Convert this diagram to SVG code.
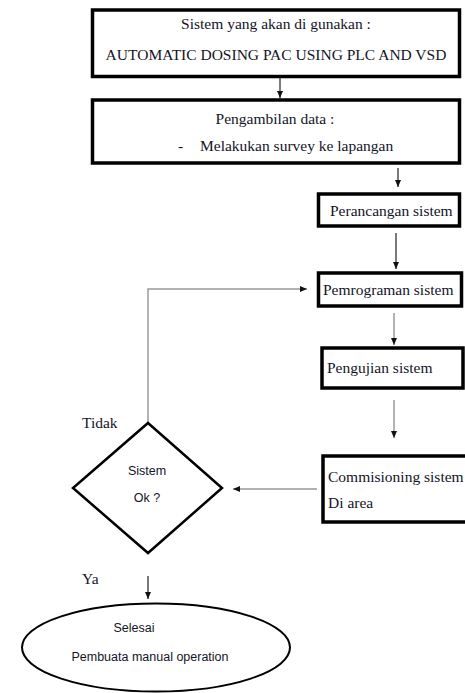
<svg xmlns="http://www.w3.org/2000/svg" width="465" height="693" viewBox="0 0 465 693">
<defs>
<marker id="ah" markerWidth="8" markerHeight="8" refX="7" refY="4" orient="auto" markerUnits="userSpaceOnUse">
<path d="M0,1 L7,4 L0,7 Z" fill="#111"/>
</marker>
<style>
.box{fill:#fff;stroke:#000;stroke-width:3.5}
.t{font-family:"Liberation Serif","Times New Roman",serif;font-size:15.5px;fill:#141428}
.s{font-family:"Liberation Sans",Arial,sans-serif;font-size:12.5px;fill:#141428}
.ln{fill:none;stroke:#222;stroke-width:1.2;marker-end:url(#ah)}
.lg{fill:none;stroke:#999;stroke-width:1.5;marker-end:url(#ah)}
</style>
</defs>
<rect width="465" height="693" fill="#fff"/>
<g id="connectors">
<path class="ln" d="M280,77 V98"/>
<path class="ln" d="M398,168 V187"/>
<path class="ln" d="M396,233 V269"/>
<path class="lg" d="M148,423 V289 H307"/>
<path class="lg" d="M394,313 V345"/>
<path class="lg" d="M394,400 V438"/>
<path class="lg" d="M317,489 H233"/>
<path class="ln" d="M148,576 V599"/>
</g>
<g id="n1">
<rect class="box" x="92.5" y="10" width="367" height="66.5"/>
<text class="t" x="276" y="29" text-anchor="middle">Sistem yang akan di gunakan :</text>
<text class="t" x="276" y="60" text-anchor="middle">AUTOMATIC DOSING PAC USING PLC AND VSD</text>
</g>
<g id="n2">
<rect class="box" x="92.5" y="100" width="367" height="63"/>
<text class="t" x="275" y="124" text-anchor="middle">Pengambilan data :</text>
<text class="t" x="178" y="151">-</text>
<text class="t" x="200" y="151">Melakukan survey ke lapangan</text>
</g>
<g id="n3">
<rect class="box" x="318.5" y="194" width="141" height="32"/>
<text class="t" x="330" y="216">Perancangan sistem</text>
</g>
<g id="n4">
<rect class="box" x="318.5" y="273" width="143" height="33"/>
<text class="t" x="323" y="295">Pemrograman sistem</text>
</g>
<g id="n5">
<rect class="box" x="322" y="348" width="141" height="40"/>
<text class="t" x="327" y="373">Pengujian sistem</text>
</g>
<g id="n6">
<rect class="box" x="323" y="456" width="146" height="66"/>
<text class="t" x="328" y="482">Commisioning sistem</text>
<text class="t" x="328" y="508">Di area</text>
</g>
<g id="n7">
<path d="M148,423 L222,488 L148,553 L73,488 Z" fill="#fff" stroke="#000" stroke-width="2.5"/>
<text class="s" x="147" y="475" text-anchor="middle">Sistem</text>
<text class="s" x="147" y="502" text-anchor="middle">Ok ?</text>
</g>
<text class="t" x="82" y="428">Tidak</text>
<text class="t" x="82" y="584">Ya</text>
<g id="n8">
<ellipse cx="156" cy="647.5" rx="134" ry="44" fill="#fff" stroke="#000" stroke-width="2"/>
<text class="s" x="134" y="632" text-anchor="middle" font-size="13">Selesai</text>
<text class="s" x="150" y="661" text-anchor="middle" font-size="13">Pembuata manual operation</text>
</g>
</svg>
